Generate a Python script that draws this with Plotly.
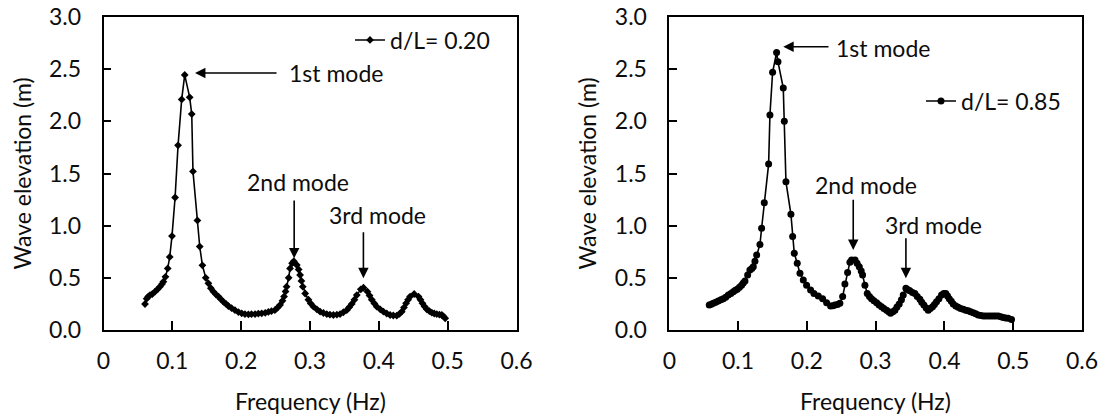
import plotly.graph_objects as go

# ---- data: d/L = 0.20 (left panel) ----
freq_a = [0.0603, 0.0627, 0.0650, 0.0676, 0.0710, 0.0748, 0.0785, 0.0820, 0.0850, 0.0870,
          0.0900, 0.0933, 0.0962, 0.0995, 0.1040, 0.1083, 0.1136, 0.1180, 0.1252, 0.1282,
          0.1300, 0.1364, 0.1398, 0.1437, 0.1485, 0.1524, 0.1560, 0.1597, 0.1635, 0.1670,
          0.1705, 0.1742, 0.1780, 0.1814, 0.1860, 0.1910, 0.1960, 0.2008, 0.2055, 0.2105,
          0.2150, 0.2202, 0.2250, 0.2299, 0.2350, 0.2396, 0.2440, 0.2490, 0.2530, 0.2565,
          0.2600, 0.2623, 0.2645, 0.2660, 0.2690, 0.2710, 0.2740, 0.2765, 0.2808, 0.2835,
          0.2856, 0.2875, 0.2895, 0.2930, 0.2977, 0.3010, 0.3050, 0.3100, 0.3147, 0.3195,
          0.3244, 0.3290, 0.3340, 0.3390, 0.3437, 0.3485, 0.3534, 0.3570, 0.3607, 0.3645,
          0.3680, 0.3738, 0.3777, 0.3835, 0.3865, 0.3898, 0.3935, 0.3970, 0.4020, 0.4067,
          0.4115, 0.4164, 0.4210, 0.4260, 0.4300, 0.4333, 0.4365, 0.4396, 0.4425, 0.4454,
          0.4513, 0.4576, 0.4605, 0.4634, 0.4665, 0.4697, 0.4735, 0.4770, 0.4805, 0.4842,
          0.4880, 0.4915, 0.4940, 0.4964]
elev_a = [0.249, 0.300, 0.320, 0.335, 0.345, 0.367, 0.390, 0.415, 0.440, 0.463,
          0.510, 0.590, 0.700, 0.900, 1.270, 1.770, 2.210, 2.445, 2.230, 2.070,
          1.520, 1.050, 0.800, 0.620, 0.500, 0.447, 0.400, 0.367, 0.340, 0.320,
          0.295, 0.270, 0.250, 0.230, 0.210, 0.190, 0.172, 0.160, 0.153, 0.150,
          0.152, 0.153, 0.157, 0.160, 0.165, 0.173, 0.180, 0.190, 0.215, 0.240,
          0.280, 0.320, 0.370, 0.415, 0.500, 0.590, 0.640, 0.660, 0.623, 0.580,
          0.527, 0.470, 0.415, 0.350, 0.290, 0.255, 0.224, 0.198, 0.176, 0.163,
          0.153, 0.147, 0.144, 0.147, 0.153, 0.170, 0.190, 0.218, 0.250, 0.290,
          0.335, 0.390, 0.405, 0.367, 0.330, 0.290, 0.255, 0.224, 0.198, 0.176,
          0.158, 0.144, 0.139, 0.137, 0.155, 0.176, 0.215, 0.256, 0.290, 0.320,
          0.345, 0.320, 0.290, 0.256, 0.225, 0.198, 0.180, 0.166, 0.158, 0.153,
          0.148, 0.144, 0.130, 0.112]

# ---- data: d/L = 0.85 (right panel) ----
freq_b = [0.0581, 0.0610, 0.0640, 0.0675, 0.0712, 0.0750, 0.0785, 0.0820, 0.0858, 0.0895,
          0.0930, 0.0960, 0.0988, 0.1020, 0.1051, 0.1075, 0.1100, 0.1139, 0.1172, 0.1200,
          0.1221, 0.1245, 0.1270, 0.1318, 0.1342, 0.1381, 0.1444, 0.1463, 0.1502, 0.1560,
          0.1580, 0.1657, 0.1672, 0.1696, 0.1768, 0.1793, 0.1817, 0.1860, 0.1900, 0.1948,
          0.1996, 0.2054, 0.2103, 0.2166, 0.2229, 0.2287, 0.2345, 0.2380, 0.2408, 0.2445,
          0.2480, 0.2520, 0.2553, 0.2592, 0.2626, 0.2650, 0.2700, 0.2730, 0.2762, 0.2790,
          0.2810, 0.2844, 0.2878, 0.2910, 0.2940, 0.2975, 0.3014, 0.3050, 0.3086, 0.3120,
          0.3159, 0.3190, 0.3217, 0.3250, 0.3280, 0.3310, 0.3343, 0.3375, 0.3401, 0.3440,
          0.3470, 0.3498, 0.3535, 0.3570, 0.3605, 0.3643, 0.3670, 0.3701, 0.3735, 0.3764,
          0.3795, 0.3827, 0.3855, 0.3885, 0.3920, 0.3958, 0.3990, 0.4020, 0.4045, 0.4070,
          0.4100, 0.4128, 0.4165, 0.4200, 0.4235, 0.4273, 0.4310, 0.4346, 0.4380, 0.4419,
          0.4455, 0.4491, 0.4530, 0.4564, 0.4600, 0.4637, 0.4675, 0.4710, 0.4745, 0.4782,
          0.4820, 0.4855, 0.4890, 0.4927, 0.4975]
elev_b = [0.240, 0.248, 0.256, 0.265, 0.278, 0.290, 0.300, 0.315, 0.335, 0.350,
          0.367, 0.380, 0.390, 0.410, 0.430, 0.450, 0.470, 0.527, 0.575, 0.590,
          0.607, 0.660, 0.720, 0.820, 0.975, 1.220, 1.590, 2.060, 2.470, 2.660,
          2.570, 2.320, 2.000, 1.420, 1.110, 0.895, 0.735, 0.640, 0.543, 0.480,
          0.430, 0.383, 0.350, 0.326, 0.300, 0.260, 0.230, 0.232, 0.240, 0.245,
          0.256, 0.320, 0.440, 0.550, 0.650, 0.670, 0.670, 0.640, 0.607, 0.565,
          0.527, 0.430, 0.350, 0.320, 0.300, 0.280, 0.262, 0.240, 0.224, 0.205,
          0.190, 0.175, 0.160, 0.175, 0.190, 0.220, 0.250, 0.290, 0.335, 0.400,
          0.385, 0.377, 0.360, 0.350, 0.320, 0.294, 0.265, 0.240, 0.210, 0.190,
          0.205, 0.224, 0.245, 0.270, 0.300, 0.335, 0.350, 0.350, 0.325, 0.300,
          0.275, 0.250, 0.230, 0.217, 0.207, 0.198, 0.190, 0.185, 0.175, 0.166,
          0.155, 0.144, 0.138, 0.134, 0.134, 0.134, 0.134, 0.134, 0.134, 0.134,
          0.127, 0.120, 0.116, 0.112, 0.100]

series_names = ["d/L= 0.20", "d/L= 0.85"]
x_ticks = [0, 0.1, 0.2, 0.3, 0.4, 0.5, 0.6]
x_ticktext = ["0", "0.1", "0.2", "0.3", "0.4", "0.5", "0.6"]
y_ticks = [0, 0.5, 1.0, 1.5, 2.0, 2.5, 3.0]
y_ticktext = ["0.0", "0.5", "1.0", "1.5", "2.0", "2.5", "3.0"]
x_title = "Frequency (Hz)"
y_title = "Wave elevation (m)"

FONT = "Lato, 'Open Sans', sans-serif"
FS = 23
INK = "#0d0d0d"

W, H = 1104, 419

fig = go.Figure()
fig.add_trace(go.Scatter(
    x=freq_a, y=elev_a, xaxis="x", yaxis="y", mode="lines+markers",
    name=series_names[0], legend="legend", showlegend=True,
    line=dict(color="black", width=1.6),
    marker=dict(symbol="diamond", size=6, color="black")))
fig.add_trace(go.Scatter(
    x=freq_b, y=elev_b, xaxis="x2", yaxis="y2", mode="lines+markers",
    name=series_names[1], legend="legend2", showlegend=True,
    line=dict(color="black", width=1.6),
    marker=dict(symbol="circle", size=7, color="black")))

ydom = [1 - 330 / H, 1 - 17 / H]
xdom1 = [103.5 / W, 516.5 / W]
xdom2 = [669.3 / W, 1082.0 / W]

def xaxis(dom, anchor):
    return dict(domain=dom, anchor=anchor, range=[0, 0.6], tickvals=x_ticks, ticktext=x_ticktext,
                ticks="inside", ticklen=9, tickwidth=1.5, tickcolor="black",
                showline=True, linecolor="black", linewidth=1.5, mirror=True,
                showgrid=False, zeroline=False, ticklabelstandoff=10, automargin=False,
                tickfont=dict(family=FONT, size=FS, color=INK), fixedrange=True)

def yaxis(anchor):
    return dict(domain=ydom, anchor=anchor, range=[0, 3.0], tickvals=y_ticks, ticktext=y_ticktext,
                ticks="inside", ticklen=8, tickwidth=1.5, tickcolor="black",
                showline=True, linecolor="black", linewidth=1.5, mirror=True,
                showgrid=False, zeroline=False, ticklabelstandoff=16, automargin=False,
                tickfont=dict(family=FONT, size=FS, color=INK), fixedrange=True)

fig.update_layout(
    width=W, height=H, autosize=False, showlegend=True,
    margin=dict(l=0, r=0, t=0, b=0, autoexpand=False),
    paper_bgcolor="white", plot_bgcolor="white",
    font=dict(family=FONT, size=FS, color=INK),
    xaxis=xaxis(xdom1, "y"), yaxis=yaxis("x"),
    xaxis2=xaxis(xdom2, "y2"), yaxis2=yaxis("x2"),
    legend=dict(x=350 / W, y=1 - 40 / H, xanchor="left", yanchor="middle",
                xref="container", yref="container", visible=True,
                bgcolor="rgba(0,0,0,0)", font=dict(family=FONT, size=FS, color=INK)),
    legend2=dict(x=921 / W, y=1 - 101 / H, xanchor="left", yanchor="middle",
                 xref="container", yref="container", visible=True,
                 bgcolor="rgba(0,0,0,0)", font=dict(family=FONT, size=FS, color=INK)),
)

ann = []
# axis titles
for cx in [(xdom1[0] + xdom1[1]) / 2, (xdom2[0] + xdom2[1]) / 2]:
    ann.append(dict(text=x_title, x=cx, y=1 - 401 / H, xref="paper", yref="paper",
                    showarrow=False, xanchor="center", yanchor="middle",
                    font=dict(family=FONT, size=FS, color=INK)))
for px in [21, 586]:
    ann.append(dict(text=y_title, x=px / W, y=1 - 173.5 / H, xref="paper", yref="paper",
                    showarrow=False, textangle=-90, xanchor="center", yanchor="middle",
                    font=dict(family=FONT, size=FS, color=INK)))

# mode labels: (xref, yref, text, x, y, xanchor)
labels = [("x", "y", "1st mode", 0.2667, 2.46, "left"),
          ("x", "y", "2nd mode", 0.2827, 1.42, "center"),
          ("x", "y", "3rd mode", 0.3985, 1.10, "center"),
          ("x2", "y2", "1st mode", 0.2394, 2.70, "left"),
          ("x2", "y2", "2nd mode", 0.2859, 1.39, "center"),
          ("x2", "y2", "3rd mode", 0.3837, 1.006, "center")]
for xr, yr, t, x, y, xa in labels:
    ann.append(dict(text=t, x=x, y=y, xref=xr, yref=yr, showarrow=False,
                    xanchor=xa, yanchor="middle", font=dict(family=FONT, size=FS, color=INK)))

# arrows: (xref, yref, head_x, head_y, tail_x, tail_y)
arrows = [("x", "y", 0.133, 2.463, 0.2536, 2.463),
          ("x", "y", 0.277, 0.687, 0.277, 1.256),
          ("x", "y", 0.3776, 0.496, 0.3776, 0.952),
          ("x2", "y2", 0.1657, 2.715, 0.2336, 2.715),
          ("x2", "y2", 0.2674, 0.767, 0.2674, 1.262),
          ("x2", "y2", 0.344, 0.496, 0.344, 0.894)]
for xr, yr, hx, hy, tx, ty in arrows:
    ann.append(dict(text="", x=hx, y=hy, xref=xr, yref=yr, ax=tx, ay=ty, axref=xr, ayref=yr,
                    showarrow=True, arrowhead=2, arrowsize=1.3, arrowwidth=1.6, arrowcolor="black"))

fig.update_layout(annotations=ann)
fig.write_html("out.html")
